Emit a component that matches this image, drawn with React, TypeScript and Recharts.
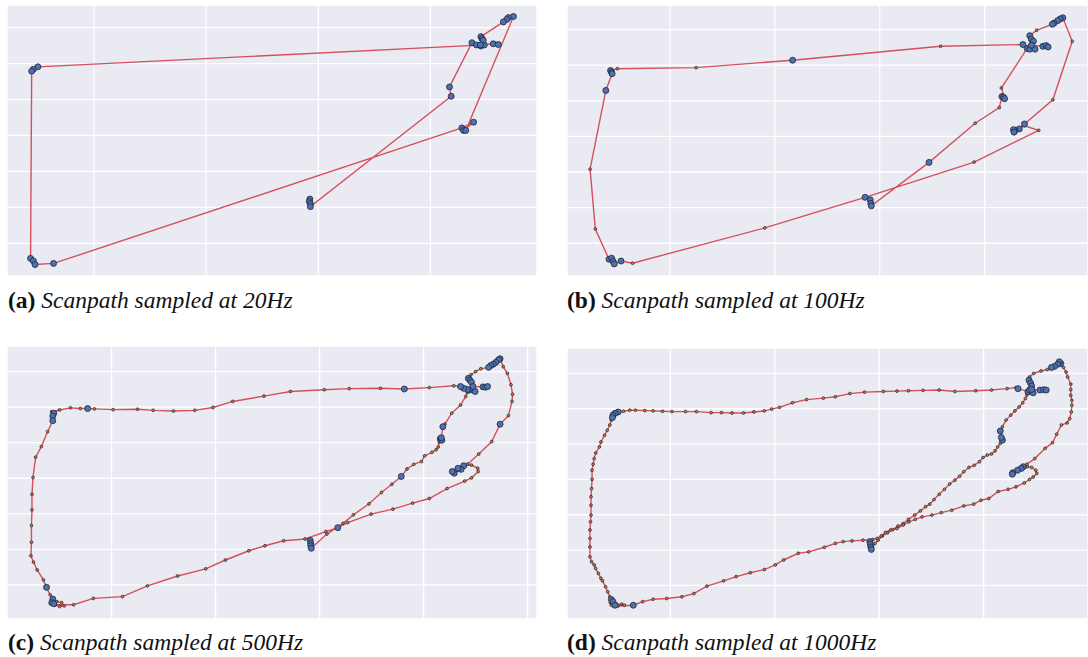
import { ScatterChart, Scatter, XAxis, YAxis, CartesianGrid } from "recharts";

// [x, y, isFixation]
type Pt = [number, number, number];

const xTicks = [200, 400, 600, 800];
const xTicksWide = [200, 400, 600, 800, 1000];
const yTicks = [100, 200, 300, 400, 500, 600, 700];

const path20: Pt[] = [
  [585, 223, 1], [584, 216, 1], [586, 210, 1], [586, 202, 1],
  [837, 509, 1], [834, 535, 1],
  [874, 658, 1], [882, 652, 1], [890, 649, 1], [896, 652, 1],
  [100, 591, 1], [92, 584, 1], [89, 579, 1],
  [87, 58, 1], [92, 51, 1], [95, 41, 1],
  [128, 44, 1],
  [856, 421, 1], [877, 437, 1], [859, 414, 1], [863, 414, 1],
  [948, 731, 1], [939, 728, 1], [936, 723, 1], [930, 716, 1],
  [890, 675, 1], [892, 669, 1], [894, 665, 1],
  [889, 652, 1], [912, 655, 1], [921, 653, 1],
];

const path100: Pt[] = [
  [582, 222, 1], [583, 212, 1], [584, 205, 1],
  [694, 327, 1],
  [782, 437, 0], [828, 481, 0],
  [833, 512, 1], [836, 510, 1], [838, 506, 1],
  [832, 536, 0],
  [881, 647, 1], [886, 645, 1], [896, 645, 1], [873, 658, 1],
  [716, 653, 0], [434, 614, 1], [250, 593, 0], [100, 590, 0],
  [87, 585, 1], [89, 580, 1], [90, 576, 1],
  [78, 529, 1],
  [48, 308, 0], [58, 140, 0],
  [84, 55, 1], [89, 58, 1], [92, 49, 1], [94, 42, 1], [107, 50, 1],
  [129, 44, 0], [381, 143, 0],
  [572, 229, 1],
  [780, 328, 0], [903, 417, 0], [876, 430, 0],
  [866, 421, 1], [858, 417, 1], [855, 419, 1], [856, 412, 1], [876, 435, 1],
  [930, 503, 0], [967, 667, 0],
  [949, 733, 1], [944, 730, 1], [939, 725, 1], [932, 718, 1], [929, 715, 1],
  [899, 698, 0],
  [886, 683, 1], [889, 673, 1], [893, 667, 1], [889, 656, 1],
  [911, 653, 1], [917, 655, 1], [921, 651, 1],
];

const path500: Pt[] = [
  [582, 225, 1], [583, 217, 1], [583, 210, 1], [584, 203, 1],
  [614, 243, 0], [645, 273, 0], [665, 297, 0], [695, 328, 0], [719, 360, 0], [739, 383, 0],
  [757, 405, 1],
  [768, 426, 0], [781, 439, 0], [796, 447, 0], [802, 463, 0], [816, 473, 0], [824, 480, 0],
  [828, 488, 0], [830, 501, 0],
  [832, 511, 1], [835, 507, 1], [834, 514, 1], [837, 545, 1],
  [841, 552, 0], [854, 583, 0], [871, 606, 0], [881, 630, 0], [884, 641, 0],
  [889, 648, 1], [894, 651, 1], [899, 644, 1], [884, 650, 1], [877, 653, 1], [871, 658, 1],
  [858, 660, 0], [811, 655, 0],
  [763, 651, 1],
  [717, 653, 0], [657, 652, 0], [609, 649, 0], [544, 644, 0], [493, 631, 0], [433, 616, 0],
  [395, 599, 0], [360, 591, 0], [319, 589, 0], [280, 591, 0], [250, 594, 0], [203, 593, 0],
  [167, 595, 0],
  [154, 596, 1],
  [140, 596, 0], [121, 598, 0], [100, 592, 0], [85, 587, 0],
  [89, 583, 1], [87, 575, 1], [87, 562, 1],
  [77, 531, 0], [65, 489, 0], [54, 459, 0], [49, 402, 0], [47, 355, 0], [47, 311, 0],
  [46, 267, 0], [46, 220, 0], [45, 182, 0], [50, 164, 0], [57, 142, 0], [69, 114, 0],
  [75, 93, 1],
  [82, 72, 0],
  [87, 60, 1], [85, 50, 1], [89, 47, 1],
  [95, 53, 0], [104, 50, 0], [109, 41, 0], [100, 39, 0], [92, 44, 0],
  [127, 44, 0], [165, 62, 0], [221, 67, 0], [269, 97, 0], [327, 125, 0], [381, 145, 0],
  [419, 170, 0], [464, 196, 0], [495, 210, 0], [531, 224, 0], [572, 229, 0], [612, 250, 0],
  [635, 261, 1],
  [654, 275, 0], [699, 299, 0], [741, 313, 0], [779, 330, 0], [811, 343, 0], [845, 371, 0],
  [879, 392, 0], [892, 401, 0], [905, 419, 0], [904, 428, 0], [892, 437, 0],
  [877, 435, 1], [872, 425, 1], [859, 414, 1], [855, 419, 1], [866, 428, 1],
  [885, 440, 0], [906, 468, 0], [931, 503, 0],
  [947, 552, 1],
  [963, 576, 0], [970, 616, 0], [971, 636, 0], [968, 663, 0], [961, 695, 0], [953, 714, 0],
  [947, 736, 1], [944, 733, 1], [939, 726, 1], [934, 721, 1], [929, 717, 1], [925, 712, 1],
  [910, 708, 0], [900, 700, 0], [891, 691, 0],
  [886, 681, 1], [889, 676, 1], [892, 670, 1], [895, 658, 1],
  [914, 657, 1], [919, 656, 1], [923, 658, 1],
];

const path1000: Pt[] = [
  [582, 224, 1], [583, 217, 1], [584, 209, 1], [585, 202, 1],
  [592, 219, 0], [598, 228, 0], [606, 240, 0], [616, 249, 0], [626, 258, 0], [636, 268, 0],
  [646, 275, 0], [656, 287, 0], [668, 299, 0], [679, 311, 0], [689, 323, 0], [697, 330, 0],
  [705, 343, 0], [715, 358, 0], [725, 372, 0], [735, 387, 0], [745, 398, 0], [754, 409, 0],
  [762, 422, 0], [772, 434, 0], [782, 440, 0], [792, 450, 0], [799, 462, 0], [807, 469, 0],
  [815, 472, 0], [822, 481, 0], [827, 492, 0], [832, 502, 0],
  [836, 511, 1], [834, 519, 1], [832, 537, 1],
  [836, 549, 0], [843, 568, 0], [852, 582, 0], [860, 594, 0], [868, 605, 0], [875, 617, 0],
  [880, 629, 0], [883, 639, 0],
  [885, 648, 1], [888, 653, 1], [895, 645, 1], [866, 657, 1],
  [862, 660, 0], [845, 657, 0], [815, 653, 0], [785, 651, 0], [745, 649, 0], [715, 653, 0],
  [684, 652, 0], [656, 651, 0], [634, 650, 0], [608, 649, 0], [572, 647, 0], [544, 643, 0],
  [516, 634, 0], [493, 630, 0], [461, 626, 0], [434, 617, 0], [409, 604, 0], [394, 599, 0],
  [380, 594, 0], [360, 591, 0], [340, 588, 0], [318, 588, 0], [298, 589, 0], [278, 589, 0],
  [250, 592, 0], [229, 592, 0], [203, 592, 0], [185, 593, 0], [167, 594, 0], [151, 595, 0],
  [133, 596, 0], [122, 596, 0], [110, 593, 0],
  [100, 591, 1], [94, 587, 1], [90, 582, 1], [89, 575, 1],
  [87, 568, 0], [84, 554, 0], [79, 539, 0], [74, 525, 0], [67, 506, 0], [64, 492, 0],
  [57, 475, 0], [54, 459, 0], [52, 443, 0], [50, 426, 0], [50, 400, 0], [49, 374, 0],
  [48, 351, 0], [48, 327, 0], [48, 299, 0], [47, 280, 0], [46, 257, 0], [46, 233, 0],
  [46, 209, 0], [46, 181, 0], [49, 167, 0], [54, 158, 0], [57, 148, 0], [62, 134, 0],
  [67, 120, 0], [70, 113, 0], [76, 96, 0], [80, 82, 0], [84, 68, 0],
  [87, 60, 1], [90, 54, 1], [94, 44, 1],
  [85, 51, 0], [87, 44, 0], [97, 47, 0], [107, 47, 0], [112, 44, 0], [100, 42, 0],
  [129, 44, 1],
  [147, 54, 0], [167, 61, 0], [193, 63, 0], [222, 68, 0], [245, 77, 0], [270, 98, 0],
  [302, 113, 0], [326, 125, 0], [353, 136, 0], [380, 145, 0], [401, 158, 0], [417, 172, 0],
  [445, 191, 0], [465, 195, 0], [495, 208, 0], [516, 219, 0], [531, 224, 0], [548, 226, 0],
  [569, 228, 0], [588, 230, 0], [596, 233, 0], [604, 240, 0], [612, 250, 0], [622, 257, 0],
  [634, 261, 0], [646, 271, 0], [657, 280, 0], [669, 287, 0], [682, 294, 0], [701, 299, 0],
  [719, 306, 0], [739, 313, 0], [762, 325, 0], [781, 330, 0], [795, 341, 0], [810, 346, 0],
  [828, 366, 0], [847, 372, 0], [862, 379, 0], [878, 390, 0], [888, 400, 0], [895, 407, 0],
  [902, 417, 0], [900, 426, 0], [892, 434, 0], [884, 436, 0],
  [876, 436, 1], [872, 431, 1], [865, 426, 1], [856, 419, 1], [855, 415, 1],
  [883, 443, 0], [898, 459, 0], [918, 488, 0], [932, 504, 0], [940, 528, 0], [949, 554, 0],
  [960, 560, 0], [965, 572, 0], [968, 591, 0], [969, 610, 0], [969, 624, 0], [967, 638, 0],
  [967, 654, 0], [967, 670, 0], [961, 690, 0], [958, 704, 0], [953, 717, 0],
  [948, 728, 1], [945, 733, 1], [942, 726, 1], [936, 720, 1], [930, 717, 1],
  [922, 711, 0], [910, 707, 0], [896, 700, 0], [888, 690, 0],
  [887, 681, 1], [890, 673, 1], [892, 664, 1], [892, 655, 1],
  [908, 653, 1], [915, 654, 1], [920, 653, 1],
];

const FixDot = (p: any) => (
  <circle cx={p.cx} cy={p.cy} r={3} fill="#4c72b0" stroke="#1f2536" strokeWidth={0.8} />
);
const SacDot = (p: any) => (
  <circle cx={p.cx} cy={p.cy} r={1.4} fill="#c58158" stroke="#262626" strokeWidth={0.75} />
);
const NoDot = () => <g />;
const NoTick = () => <g />;

const Panel = ({ path, xDomain, yDomain, ticks, width, height }: any) => {
  const pts = path.map(([x, y, f]: Pt) => ({ x, y, f }));
  return (
    <ScatterChart width={width} height={height} margin={{ top: 0, right: 0, bottom: 0, left: 0 }}>
      <CartesianGrid fill="#eaeaf2" fillOpacity={1} stroke="#ffffff" strokeWidth={1.3} />
      <XAxis type="number" dataKey="x" domain={xDomain} ticks={ticks} height={0} interval={0}
        tick={NoTick} axisLine={false} tickLine={false} allowDataOverflow />
      <YAxis type="number" dataKey="y" domain={yDomain} ticks={yTicks} width={0} interval={0}
        tick={NoTick} axisLine={false} tickLine={false} allowDataOverflow />
      <Scatter data={pts} line={{ stroke: "#d5505a", strokeWidth: 1.4 }} shape={NoDot} isAnimationActive={false} />
      <Scatter data={pts.filter((d: any) => !d.f)} shape={SacDot} isAnimationActive={false} />
      <Scatter data={pts.filter((d: any) => d.f)} shape={FixDot} isAnimationActive={false} />
    </ScatterChart>
  );
};

const Caption = ({ tag, text, left, top }: any) => (
  <div style={{ position: "absolute", left, top, fontFamily: '"Liberation Serif", "Times New Roman", serif',
    fontSize: 23.5, lineHeight: 1, color: "#111", whiteSpace: "nowrap" }}>
    <b>({tag})</b> <i>{text}</i>
  </div>
);

export default function App() {
  return (
    <div style={{ position: "absolute", left: 0, top: 0, width: 1088, height: 657, background: "#fff", overflow: "hidden" }}>
      <div style={{ position: "absolute", left: 7, top: 5 }}>
        <Panel path={path20} xDomain={[45, 990]} yDomain={[9, 763]} ticks={xTicks} width={530} height={271} />
      </div>
      <div style={{ position: "absolute", left: 567, top: 5 }}>
        <Panel path={path100} xDomain={[4, 997]} yDomain={[8, 769]} ticks={xTicks} width={521} height={271} />
      </div>
      <div style={{ position: "absolute", left: 7, top: 346 }}>
        <Panel path={path500} xDomain={[-1, 1018]} yDomain={[4, 772]} ticks={xTicksWide} width={530} height={273} />
      </div>
      <div style={{ position: "absolute", left: 567, top: 348 }}>
        <Panel path={path1000} xDomain={[2, 1000]} yDomain={[5, 772]} ticks={xTicks} width={521} height={271} />
      </div>
      <Caption tag="a" text="Scanpath sampled at 20Hz" left={8} top={289} />
      <Caption tag="b" text="Scanpath sampled at 100Hz" left={567} top={289} />
      <Caption tag="c" text="Scanpath sampled at 500Hz" left={8} top={631} />
      <Caption tag="d" text="Scanpath sampled at 1000Hz" left={567} top={631} />
    </div>
  );
}
